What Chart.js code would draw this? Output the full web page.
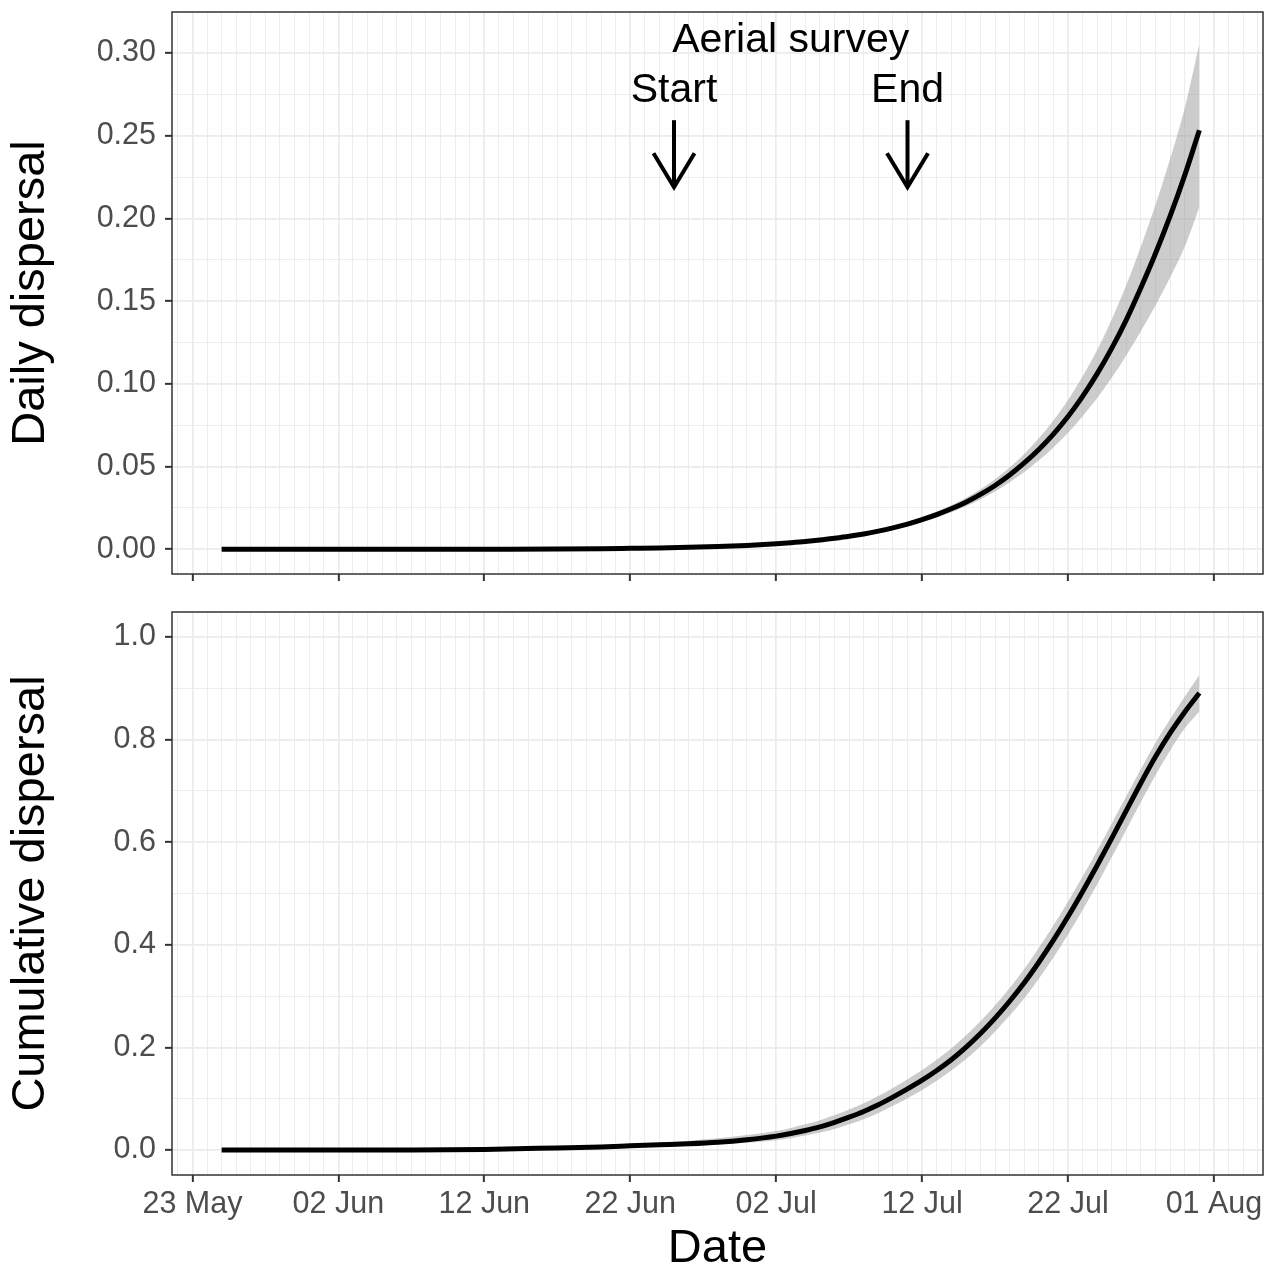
<!DOCTYPE html>
<html>
<head>
<meta charset="utf-8">
<title>Dispersal</title>
<script src="https://cdn.jsdelivr.net/npm/chart.js@4.4.1/dist/chart.umd.min.js"></script>
<style>
  body { margin: 0; background: #ffffff; }
  #wrap { position: relative; width: 1280px; height: 1267px; background: #ffffff; }
  canvas { position: absolute; left: 0; }
  #daily { top: 0; }
  #cumul { top: 600px; }
</style>
</head>
<body>
<div id="wrap">
  <canvas id="daily" width="1280" height="600"></canvas>
  <canvas id="cumul" width="1280" height="667"></canvas>
</div>
<script>
// days counted from 23 May
var days = [2, 5, 10, 15, 20, 25, 28, 30, 32, 34, 36, 38, 40,
  41, 42, 43, 44, 45, 46, 47, 48, 49, 50, 51, 52, 53, 54, 55,
  56, 57, 58, 59, 60, 61, 62, 63, 64, 65, 66, 67, 68, 69];

var dailyMid = [0, 0, 0, 0, 0.0001, 0.0002, 0.0004, 0.0006, 0.0008, 0.0012, 0.0017, 0.0024, 0.0034,
  0.0040, 0.0047, 0.0056, 0.0067, 0.0079, 0.0093, 0.0110, 0.0130, 0.0153, 0.0180, 0.0210, 0.0245, 0.0285, 0.0332, 0.0386,
  0.0449, 0.0522, 0.0604, 0.0697, 0.0803, 0.0925, 0.1062, 0.1216, 0.1389, 0.1583, 0.1790, 0.2015, 0.2262, 0.2533];
var dailyHi = [0, 0, 0, 0, 0.0001, 0.0002, 0.0005, 0.0007, 0.0009, 0.0013, 0.0019, 0.0027, 0.0038,
  0.0045, 0.0053, 0.0062, 0.0074, 0.0087, 0.0102, 0.0121, 0.0142, 0.0167, 0.0196, 0.0229, 0.0267, 0.0311, 0.0363, 0.0423,
  0.0494, 0.0577, 0.0671, 0.0779, 0.0903, 0.1046, 0.1207, 0.1391, 0.1599, 0.1832, 0.2085, 0.2361, 0.2668, 0.3057];
var dailyLo = [0, 0, 0, 0, 0.0001, 0.0002, 0.0004, 0.0005, 0.0007, 0.0011, 0.0015, 0.0022, 0.0031,
  0.0036, 0.0043, 0.0051, 0.0061, 0.0072, 0.0085, 0.0100, 0.0118, 0.0139, 0.0164, 0.0192, 0.0224, 0.0260, 0.0302, 0.0350,
  0.0405, 0.0468, 0.0538, 0.0616, 0.0705, 0.0805, 0.0915, 0.1038, 0.1173, 0.1320, 0.1475, 0.1644, 0.1830, 0.2070];

var cumMid = [0, 0, 0, 0, 0.001, 0.004, 0.006, 0.008, 0.010, 0.012, 0.015, 0.020, 0.027,
  0.032, 0.038, 0.045, 0.054, 0.064, 0.075, 0.088, 0.103, 0.119, 0.136, 0.155, 0.176, 0.200, 0.227, 0.257,
  0.290, 0.326, 0.366, 0.409, 0.455, 0.504, 0.555, 0.608, 0.662, 0.716, 0.767, 0.813, 0.854, 0.891];
var cumHi = [0, 0, 0, 0.001, 0.002, 0.005, 0.008, 0.011, 0.014, 0.018, 0.023, 0.029, 0.037,
  0.043, 0.050, 0.058, 0.068, 0.079, 0.091, 0.105, 0.121, 0.138, 0.156, 0.176, 0.198, 0.223, 0.251, 0.282,
  0.316, 0.353, 0.394, 0.438, 0.484, 0.533, 0.584, 0.637, 0.690, 0.743, 0.794, 0.840, 0.884, 0.926];
var cumLo = [0, 0, 0, 0, 0.001, 0.003, 0.004, 0.006, 0.007, 0.009, 0.011, 0.014, 0.019,
  0.023, 0.028, 0.034, 0.041, 0.050, 0.060, 0.072, 0.086, 0.101, 0.117, 0.135, 0.155, 0.177, 0.202, 0.231,
  0.262, 0.296, 0.334, 0.375, 0.420, 0.468, 0.518, 0.571, 0.625, 0.679, 0.731, 0.779, 0.822, 0.855];

var xTickDays = [0, 10, 20, 30, 40, 50, 60, 70];
var xTickLabels = ['23 May', '02 Jun', '12 Jun', '22 Jun', '02 Jul', '12 Jul', '22 Jul', '01 Aug'];

var dailyMajor = [0, 0.05, 0.10, 0.15, 0.20, 0.25, 0.30];
var dailyLabels = ['0.00', '0.05', '0.10', '0.15', '0.20', '0.25', '0.30'];
var cumMajor = [0, 0.2, 0.4, 0.6, 0.8, 1.0];
var cumLabels = ['0.0', '0.2', '0.4', '0.6', '0.8', '1.0'];

// survey annotation (day, value)
var noteText = ['Aerial survey', 'Start', 'End'];
var noteDay = [41, 33, 49];
var noteVal = [0.3006, 0.2704, 0.2704];
var arrowDay = [33, 49];
var arrowTop = 0.2594;
var arrowTip = 0.2189;

Chart.defaults.font.family = '"Liberation Sans", Arial, sans-serif';
Chart.defaults.color = '#4D4D4D';

var CLEAR = 'rgba(0,0,0,0)';

function pts(ys) {
  return days.map(function (d, i) { return { x: d, y: ys[i] }; });
}

function indexIn(list, v) {
  for (var i = 0; i < list.length; i++) {
    if (Math.abs(list[i] - v) < 1e-9) return i;
  }
  return -1;
}

function gridOpts(isMajor) {
  return {
    color: function (c) { return c.tick ? '#EBEBEB' : CLEAR; },
    lineWidth: function (c) { return c.tick && isMajor(c.tick.value) ? 1.7 : 0.9; },
    tickColor: function (c) { return c.tick && isMajor(c.tick.value) ? '#333333' : CLEAR; },
    tickWidth: 2,
    tickLength: 7,
    drawTicks: true
  };
}

function isMajorX(v) { return xTickDays.indexOf(v) >= 0; }

function xScale(showLabels, height, title) {
  return {
    type: 'linear',
    min: -1.4,
    max: 73.36,
    border: { display: false },
    grid: gridOpts(isMajorX),
    afterBuildTicks: function (s) {
      var t = [];
      for (var d = -1; d <= 73; d++) t.push({ value: d });
      s.ticks = t;
    },
    afterFit: function (s) { s.height = height; },
    ticks: {
      display: showLabels,
      autoSkip: false,
      maxRotation: 0,
      minRotation: 0,
      padding: 4,
      color: '#4D4D4D',
      font: { size: 30.5 },
      callback: function (v) {
        var i = xTickDays.indexOf(v);
        return i >= 0 ? xTickLabels[i] : '';
      }
    },
    title: title ? {
      display: true,
      text: title,
      color: '#000000',
      font: { size: 47, lineHeight: 0.75 },
      padding: { top: 0, bottom: 0 }
    } : { display: false }
  };
}

function yScale(min, max, major, labels, title) {
  var isMajor = function (v) { return indexIn(major, v) >= 0; };
  return {
    type: 'linear',
    min: min,
    max: max,
    border: { display: false },
    grid: gridOpts(isMajor),
    afterBuildTicks: function (s) {
      var t = [];
      for (var i = 0; i < major.length; i++) {
        t.push({ value: major[i] });
        if (i < major.length - 1) t.push({ value: (major[i] + major[i + 1]) / 2 });
      }
      s.ticks = t;
    },
    afterFit: function (s) { s.width = 172; },
    ticks: {
      autoSkip: false,
      padding: 9,
      color: '#4D4D4D',
      font: { size: 30.5, lineHeight: 0.01 },
      callback: function (v) {
        var i = indexIn(major, v);
        return i >= 0 ? labels[i] : '';
      }
    },
    title: {
      display: true,
      text: title,
      color: '#000000',
      font: { size: 47, lineHeight: 1 },
      padding: { top: 7.5, bottom: 0 }
    }
  };
}

function bandSets(mid, hi, lo) {
  return [{
    data: pts(mid),
    borderColor: '#000000',
    borderWidth: 5,
    pointRadius: 0,
    fill: false,
    cubicInterpolationMode: 'monotone'
  }, {
    data: pts(hi),
    borderWidth: 0,
    borderColor: CLEAR,
    backgroundColor: 'rgba(153,153,153,0.5)',
    pointRadius: 0,
    fill: '+1',
    cubicInterpolationMode: 'monotone'
  }, {
    data: pts(lo),
    borderWidth: 0,
    borderColor: CLEAR,
    pointRadius: 0,
    fill: false,
    cubicInterpolationMode: 'monotone'
  }];
}

var panelBox = {
  id: 'panelBox',
  afterDatasetsDraw: function (chart) {
    var a = chart.chartArea, c = chart.ctx;
    c.save();
    c.strokeStyle = '#333333';
    c.lineWidth = 1.5;
    c.strokeRect(a.left, a.top, a.right - a.left, a.bottom - a.top);
    c.restore();
  }
};

var surveyNotes = {
  id: 'surveyNotes',
  afterDatasetsDraw: function (chart) {
    var c = chart.ctx, xs = chart.scales.x, ys = chart.scales.y;
    c.save();
    c.fillStyle = '#000000';
    c.textAlign = 'center';
    c.textBaseline = 'alphabetic';
    c.font = '41px "Liberation Sans", Arial, sans-serif';
    noteText.forEach(function (t, i) {
      c.fillText(t, xs.getPixelForValue(noteDay[i]), ys.getPixelForValue(noteVal[i]));
    });
    c.strokeStyle = '#000000';
    c.lineWidth = 4;
    c.lineJoin = 'miter';
    arrowDay.forEach(function (d) {
      var x = xs.getPixelForValue(d);
      var y0 = ys.getPixelForValue(arrowTop);
      var y1 = ys.getPixelForValue(arrowTip);
      c.beginPath();
      c.moveTo(x, y0);
      c.lineTo(x, y1 - 2);
      c.stroke();
      c.beginPath();
      c.moveTo(x - 20.5, y1 - 34);
      c.lineTo(x, y1);
      c.lineTo(x + 20.5, y1 - 34);
      c.stroke();
    });
    c.restore();
  }
};

var common = {
  responsive: false,
  animation: false,
  layout: { padding: { left: 0, right: 17, top: 12, bottom: 0 } },
  plugins: { legend: { display: false }, tooltip: { enabled: false } }
};

new Chart(document.getElementById('daily').getContext('2d'), {
  type: 'line',
  data: { datasets: bandSets(dailyMid, dailyHi, dailyLo) },
  options: Object.assign({}, common, {
    scales: {
      x: xScale(false, 26, null),
      y: yScale(-0.0149, 0.3248, dailyMajor, dailyLabels, 'Daily dispersal')
    }
  }),
  plugins: [panelBox, surveyNotes]
});

new Chart(document.getElementById('cumul').getContext('2d'), {
  type: 'line',
  data: { datasets: bandSets(cumMid, cumHi, cumLo) },
  options: Object.assign({}, common, {
    scales: {
      x: xScale(true, 92, 'Date'),
      y: yScale(-0.0488, 1.0488, cumMajor, cumLabels, 'Cumulative dispersal')
    }
  }),
  plugins: [panelBox]
});
</script>
</body>
</html>
